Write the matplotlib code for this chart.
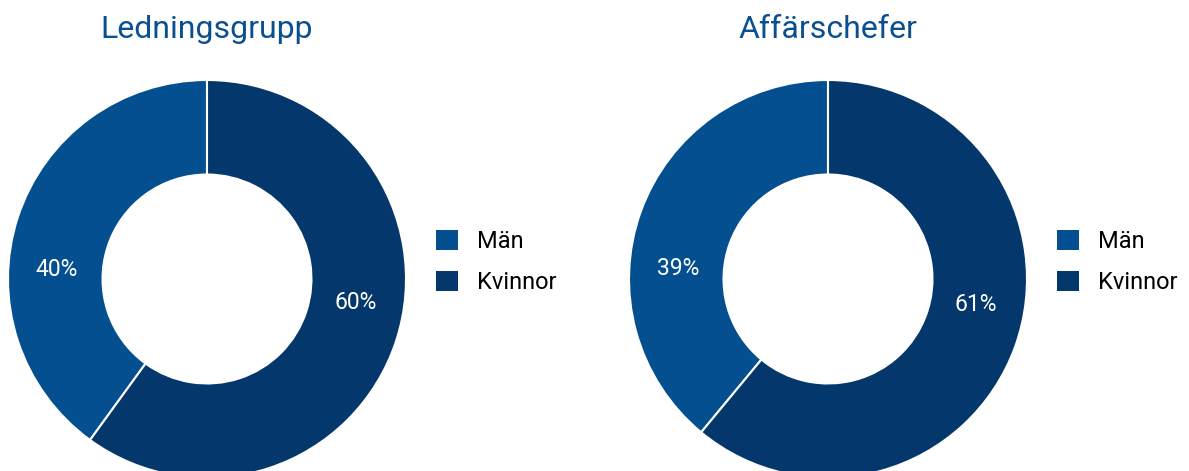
import numpy as np
import matplotlib.pyplot as plt
from matplotlib.patches import Patch

# data
titles = ['Ledningsgrupp', 'Affärschefer']
categories = ['Män', 'Kvinnor']
ledning = [40, 60]
affar = [39, 61]
colors = ['#034f8f', '#04376b']

plt.rcParams['font.family'] = ['Roboto', 'DejaVu Sans']

W, H = 1189, 471
fig = plt.figure(figsize=(W / 100, H / 100), dpi=100)
ax = fig.add_axes([0, 0, 1, 1])
ax.set_xlim(0, W)
ax.set_ylim(0, H)
ax.set_aspect('equal')
ax.axis('off')

R = 199
centers = [(207, H - 279), (828, H - 279)]

for (cx, cy), title, vals in zip(centers, titles, [ledning, affar]):
    wedges, texts = ax.pie(vals, colors=colors, startangle=90, counterclock=True,
                           center=(cx, cy), radius=R, frame=True,
                           wedgeprops=dict(width=R * 0.475, edgecolor='white', linewidth=1.5))
    # percent labels, pulled toward the horizontal like the original
    for w, v in zip(wedges, vals):
        mid = (w.theta1 + w.theta2) / 2
        if np.cos(np.deg2rad(mid)) < 0:
            ang = 180 + 0.2 * (mid - 180)
        else:
            ang = 360 + 0.5 * (mid - 360)
        ang = np.deg2rad(ang)
        r = R * 0.755
        ax.text(cx + r * np.cos(ang), cy + r * np.sin(ang), f'{v}%',
                color='white', fontsize=16.5, ha='center', va='center')
    ax.text(cx, H - 30, title, color='#0a4f8f', fontsize=23, ha='center', va='center')
    handles = [Patch(facecolor=c, edgecolor='none') for c in colors]
    fig.legend(handles, categories, loc='center left', frameon=False,
               bbox_to_anchor=(cx + 229, cy + 17), bbox_transform=ax.transData,
               fontsize=17, handlelength=0.95, handleheight=0.95,
               handletextpad=0.8, labelspacing=0.75, borderpad=0, borderaxespad=0)

ax.set_xlim(0, W)
ax.set_ylim(0, H)
ax.axis('off')
fig.savefig('out.png', dpi=100)
